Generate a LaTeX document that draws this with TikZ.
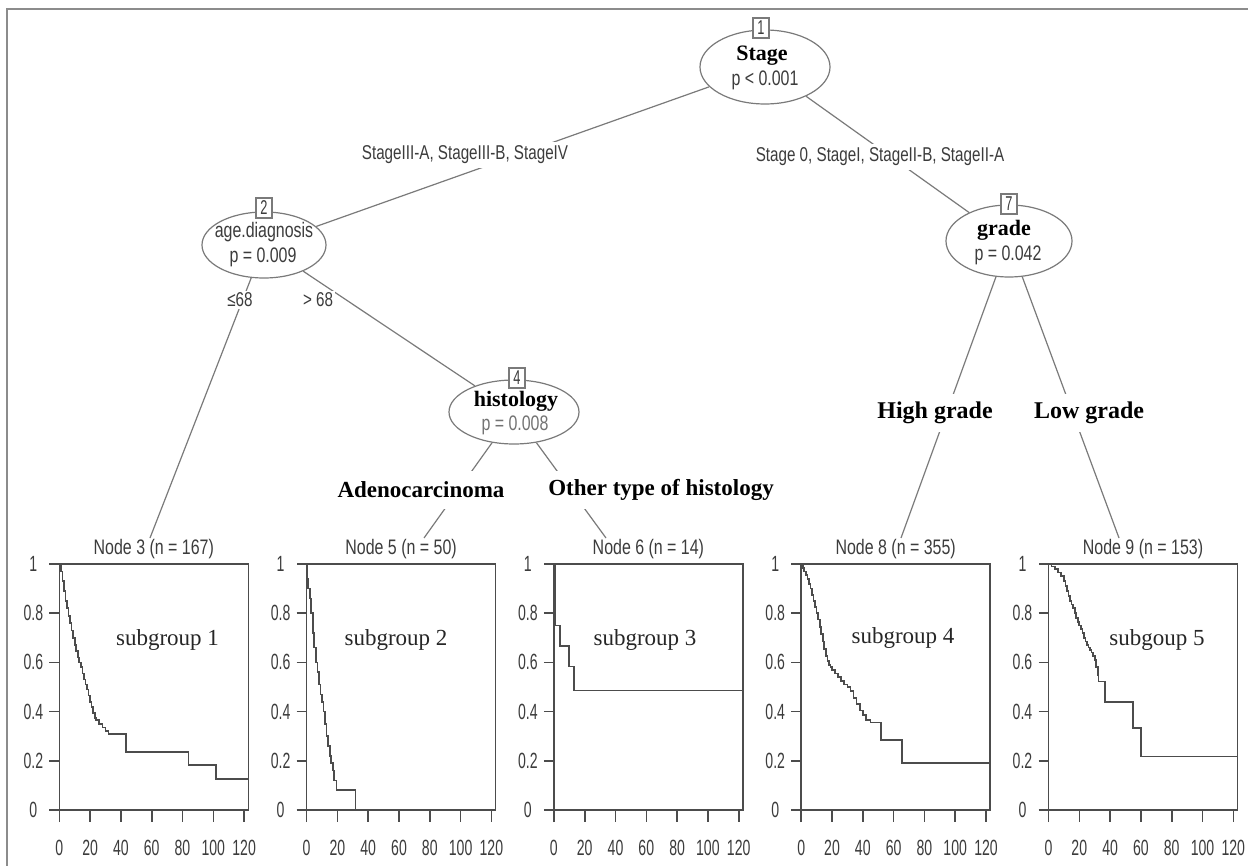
\documentclass[tikz,border=0pt]{standalone}
\usepackage{fontspec}
\setmainfont{Liberation Serif}
\newfontfamily\arialn[FakeStretch=0.76]{Liberation Sans}
\newfontfamily\arialt[FakeStretch=0.64]{Liberation Sans}
\usetikzlibrary{shapes.geometric}
\definecolor{treeline}{HTML}{7A7A7A}
\definecolor{plotline}{HTML}{4C4C4C}
\definecolor{txtgray}{HTML}{3C3C3C}
\definecolor{framegray}{HTML}{8C8C8C}
\tikzset{
  splitnode/.style={ellipse, draw=treeline, line width=1.2pt, fill=white, inner sep=0pt},
  edge/.style={draw=treeline, line width=1.2pt},
  numbox/.style={draw=treeline, line width=1.1pt, fill=white, inner sep=1.5pt, minimum width=16pt, minimum height=20pt, font={\arialt\fontsize{20pt}{20pt}\selectfont}, text=txtgray},
  vartext/.style={font={\bfseries\fontsize{22pt}{22pt}\selectfont}, text=black, inner sep=0pt},
  ptext/.style={font={\arialn\fontsize{21pt}{21pt}\selectfont}, text=txtgray, inner sep=0pt},
  splitlab/.style={font={\arialn\fontsize{20pt}{20pt}\selectfont}, text=txtgray, fill=white, inner sep=2pt},
  biglab/.style={font={\bfseries\fontsize{23pt}{23pt}\selectfont}, text=black, fill=white, inner sep=1pt, minimum height=38pt},
  titlelab/.style={font={\arialn\fontsize{21pt}{21pt}\selectfont}, text=txtgray, inner sep=1pt},
  ticklab/.style={font={\arialt\fontsize{22pt}{22pt}\selectfont}, text=txtgray, inner sep=0pt},
  sublab/.style={font={\fontsize{23pt}{23pt}\selectfont}, text=black!85, inner sep=0pt},
  plotax/.style={draw=plotline, line width=1.6pt},
  kmcurve/.style={draw=plotline, line width=1.7pt, line join=miter},
  kmframe/.pic={
    \draw[plotax] (-10,0) -- (189,0) -- (189,-246) -- (-10,-246);
    \draw[plotax] (0,12) -- (0,-246);
    \foreach \v [count=\k] in {0.2,0.4,0.6,0.8} {
      \draw[plotax] (-10,-246*\v) -- (0,-246*\v);
      \node[ticklab] (y\k) at (-26,-246*\v) {\v};
    }
    \node[ticklab] (ya) at (-26,0) {0};
    \node[ticklab] (yb) at (-26,-246) {1};
    \foreach \t in {20,40,...,120} { \draw[plotax] (1.54*\t,0) -- (1.54*\t,12); }
    \foreach \t in {0,20,...,120} { \node[ticklab] (x\t) at (1.54*\t,38) {\t}; }
  }
}
\begin{document}
\begin{tikzpicture}[x=1pt,y=-1pt]
\useasboundingbox (0,0) rectangle (1248,866);
\fill[white] (0,0) rectangle (1248,866);
\draw[framegray, line width=2pt] (7,866) -- (7,9) -- (1248,9);

% split nodes
\node[splitnode, minimum width=130pt, minimum height=74pt] (n1) at (765,67) {};
\node[splitnode, minimum width=124pt, minimum height=66pt] (n2) at (264,245) {};
\node[splitnode, minimum width=130pt, minimum height=64pt] (n4) at (514,412) {};
\node[splitnode, minimum width=126pt, minimum height=72pt] (n7) at (1009,241) {};

\node[vartext] (n1v) at (762,56) {Stage};
\node[ptext] (n1p) at (765,80) {p < 0.001};
\node[ptext] (n2v) at (264,232) {age.diagnosis};
\node[ptext] (n2p) at (263,257) {p = 0.009};
\node[vartext] (n4v) at (516,401) {histology};
\node[ptext, text=black!55] (n4p) at (515,425) {p = 0.008};
\node[vartext] (n7v) at (1004,230) {grade};
\node[ptext] (n7p) at (1008,255) {p = 0.042};

% terminal titles
\node[titlelab] (t3) at (153.8,549) {Node 3 (n = 167)};
\node[titlelab] (t5) at (401.1,549) {Node 5 (n = 50)};
\node[titlelab] (t6) at (648.4,549) {Node 6 (n = 14)};
\node[titlelab] (t8) at (895.7,549) {Node 8 (n = 355)};
\node[titlelab] (t9) at (1143,549) {Node 9 (n = 153)};
\coordinate (e3) at (150,538);
\coordinate (e5) at (424,538);
\coordinate (e6) at (606,538);
\coordinate (e8) at (901,538);
\coordinate (e9) at (1119,538);

% edges
\draw[edge] (n1) -- (n2);
\draw[edge] (n1) -- (n7);
\draw[edge] (n2) -- (e3);
\draw[edge] (n2) -- (n4);
\draw[edge] (n4) -- (e5);
\draw[edge] (n4) -- (e6);
\draw[edge] (n7) -- (e8);
\draw[edge] (n7) -- (e9);

% edge labels
\node[splitlab, minimum height=26pt] (l12) at (465,155) {StageIII-A, StageIII-B, StageIV};
\node[splitlab, minimum height=26pt] (l17) at (880,157) {Stage 0, StageI, StageII-B, StageII-A};
\node[splitlab] (l23) at (240,300) {≤68};
\node[splitlab] (l24) at (318,300) {> 68};
\node[biglab] (l45) at (421,490) {Adenocarcinoma};
\node[biglab] (l46) at (661,490) {Other type of histology};
\node[biglab, font={\bfseries\fontsize{24pt}{24pt}\selectfont}] (l78) at (935,413) {High grade};
\node[biglab, font={\bfseries\fontsize{24pt}{24pt}\selectfont}] (l79) at (1089,413) {Low grade};

% number boxes
\node[numbox] (b1) at (761,28) {1};
\node[numbox] (b2) at (264,208) {2};
\node[numbox] (b4) at (517,378) {4};
\node[numbox] (b7) at (1009,204) {7};

% plot frames
\pic (p1) at (59.3,810) {kmframe};
\pic (p2) at (306.6,810) {kmframe};
\pic (p3) at (553.9,810) {kmframe};
\pic (p4) at (801.2,810) {kmframe};
\pic (p5) at (1048.5,810) {kmframe};

% curves
\begin{scope}[shift={(59.3,810)}, x=1.54pt, y=246pt]
\draw[kmcurve] (0,1) -| (1,0.97) -| (2,0.93) -| (3,0.89) -| (4,0.85) -| (5,0.82) -| (6,0.79) -| (7,0.76) -| (8,0.73) -| (9,0.70) -| (10,0.67) -| (11,0.645) -| (12,0.62) -| (13,0.60) -| (14,0.58) -| (15,0.555) -| (16,0.53) -| (17,0.51) -| (18,0.49) -| (19,0.465) -| (20,0.44) -| (21,0.42) -| (22,0.395) -| (23,0.375) -| (24,0.365) -| (26,0.35) -| (28,0.335) -| (30,0.32) -| (32,0.31) -| (43.3,0.237) -| (83.8,0.183) -| (101.7,0.126) -- (122.5,0.126);
\end{scope}
\begin{scope}[shift={(306.6,810)}, x=1.54pt, y=246pt]
\draw[kmcurve] (0,1) -| (0.5,0.94) -| (1,0.90) -| (2,0.86) -| (3,0.80) -| (4,0.72) -| (5,0.66) -| (6,0.60) -| (7,0.56) -| (8,0.51) -| (9,0.47) -| (10,0.44) -| (11,0.40) -| (12,0.35) -| (13,0.30) -| (14,0.26) -| (15,0.22) -| (16,0.19) -| (17,0.16) -| (18,0.12) -| (19.5,0.08) -| (31.8,0);
\end{scope}
\begin{scope}[shift={(553.9,810)}, x=1.54pt, y=246pt]
\draw[kmcurve] (0,1) -| (1.1,0.75) -| (4.1,0.667) -| (9.7,0.583) -| (13,0.486) -- (122.5,0.486);
\end{scope}
\begin{scope}[shift={(801.2,810)}, x=1.54pt, y=246pt]
\draw[kmcurve] (0,1) -| (1,0.985) -| (2,0.97) -| (3,0.955) -| (4,0.94) -| (5,0.92) -| (6,0.90) -| (7,0.875) -| (8,0.85) -| (9,0.825) -| (10,0.80) -| (11,0.775) -| (12,0.745) -| (13,0.715) -| (14,0.685) -| (15,0.655) -| (16,0.625) -| (17,0.605) -| (18,0.59) -| (19,0.58) -| (20,0.57) -| (22,0.555) -| (24,0.54) -| (26,0.525) -| (28,0.51) -| (30,0.50) -| (32,0.485) -| (34,0.455) -| (36,0.43) -| (38,0.405) -| (40,0.385) -| (42,0.365) -| (45,0.356) -| (51.7,0.285) -| (65.4,0.19) -- (122.5,0.19);
\end{scope}
\begin{scope}[shift={(1048.5,810)}, x=1.54pt, y=246pt]
\draw[kmcurve] (0,1) -| (2,0.99) -| (4,0.98) -| (6,0.965) -| (8,0.95) -| (10,0.93) -| (11,0.91) -| (12,0.89) -| (13,0.87) -| (14,0.85) -| (15,0.835) -| (16,0.82) -| (17,0.80) -| (18,0.78) -| (19,0.765) -| (20,0.75) -| (21,0.735) -| (22,0.72) -| (23,0.70) -| (24,0.685) -| (25,0.67) -| (26,0.66) -| (27,0.65) -| (28,0.64) -| (29,0.625) -| (30,0.61) -| (31,0.58) -| (32,0.55) -| (32.5,0.522) -| (36.8,0.44) -| (54.8,0.332) -| (60,0.217) -- (122.5,0.217);
\end{scope}

% subgroup labels
\node[sublab] (sg1) at (167.5,640) {subgroup 1};
\node[sublab] (sg2) at (396,640) {subgroup 2};
\node[sublab] (sg3) at (645,640) {subgroup 3};
\node[sublab] (sg4) at (903,638) {subgroup 4};
\node[sublab] (sg5) at (1157,640) {subgoup 5};
\end{tikzpicture}
\end{document}
